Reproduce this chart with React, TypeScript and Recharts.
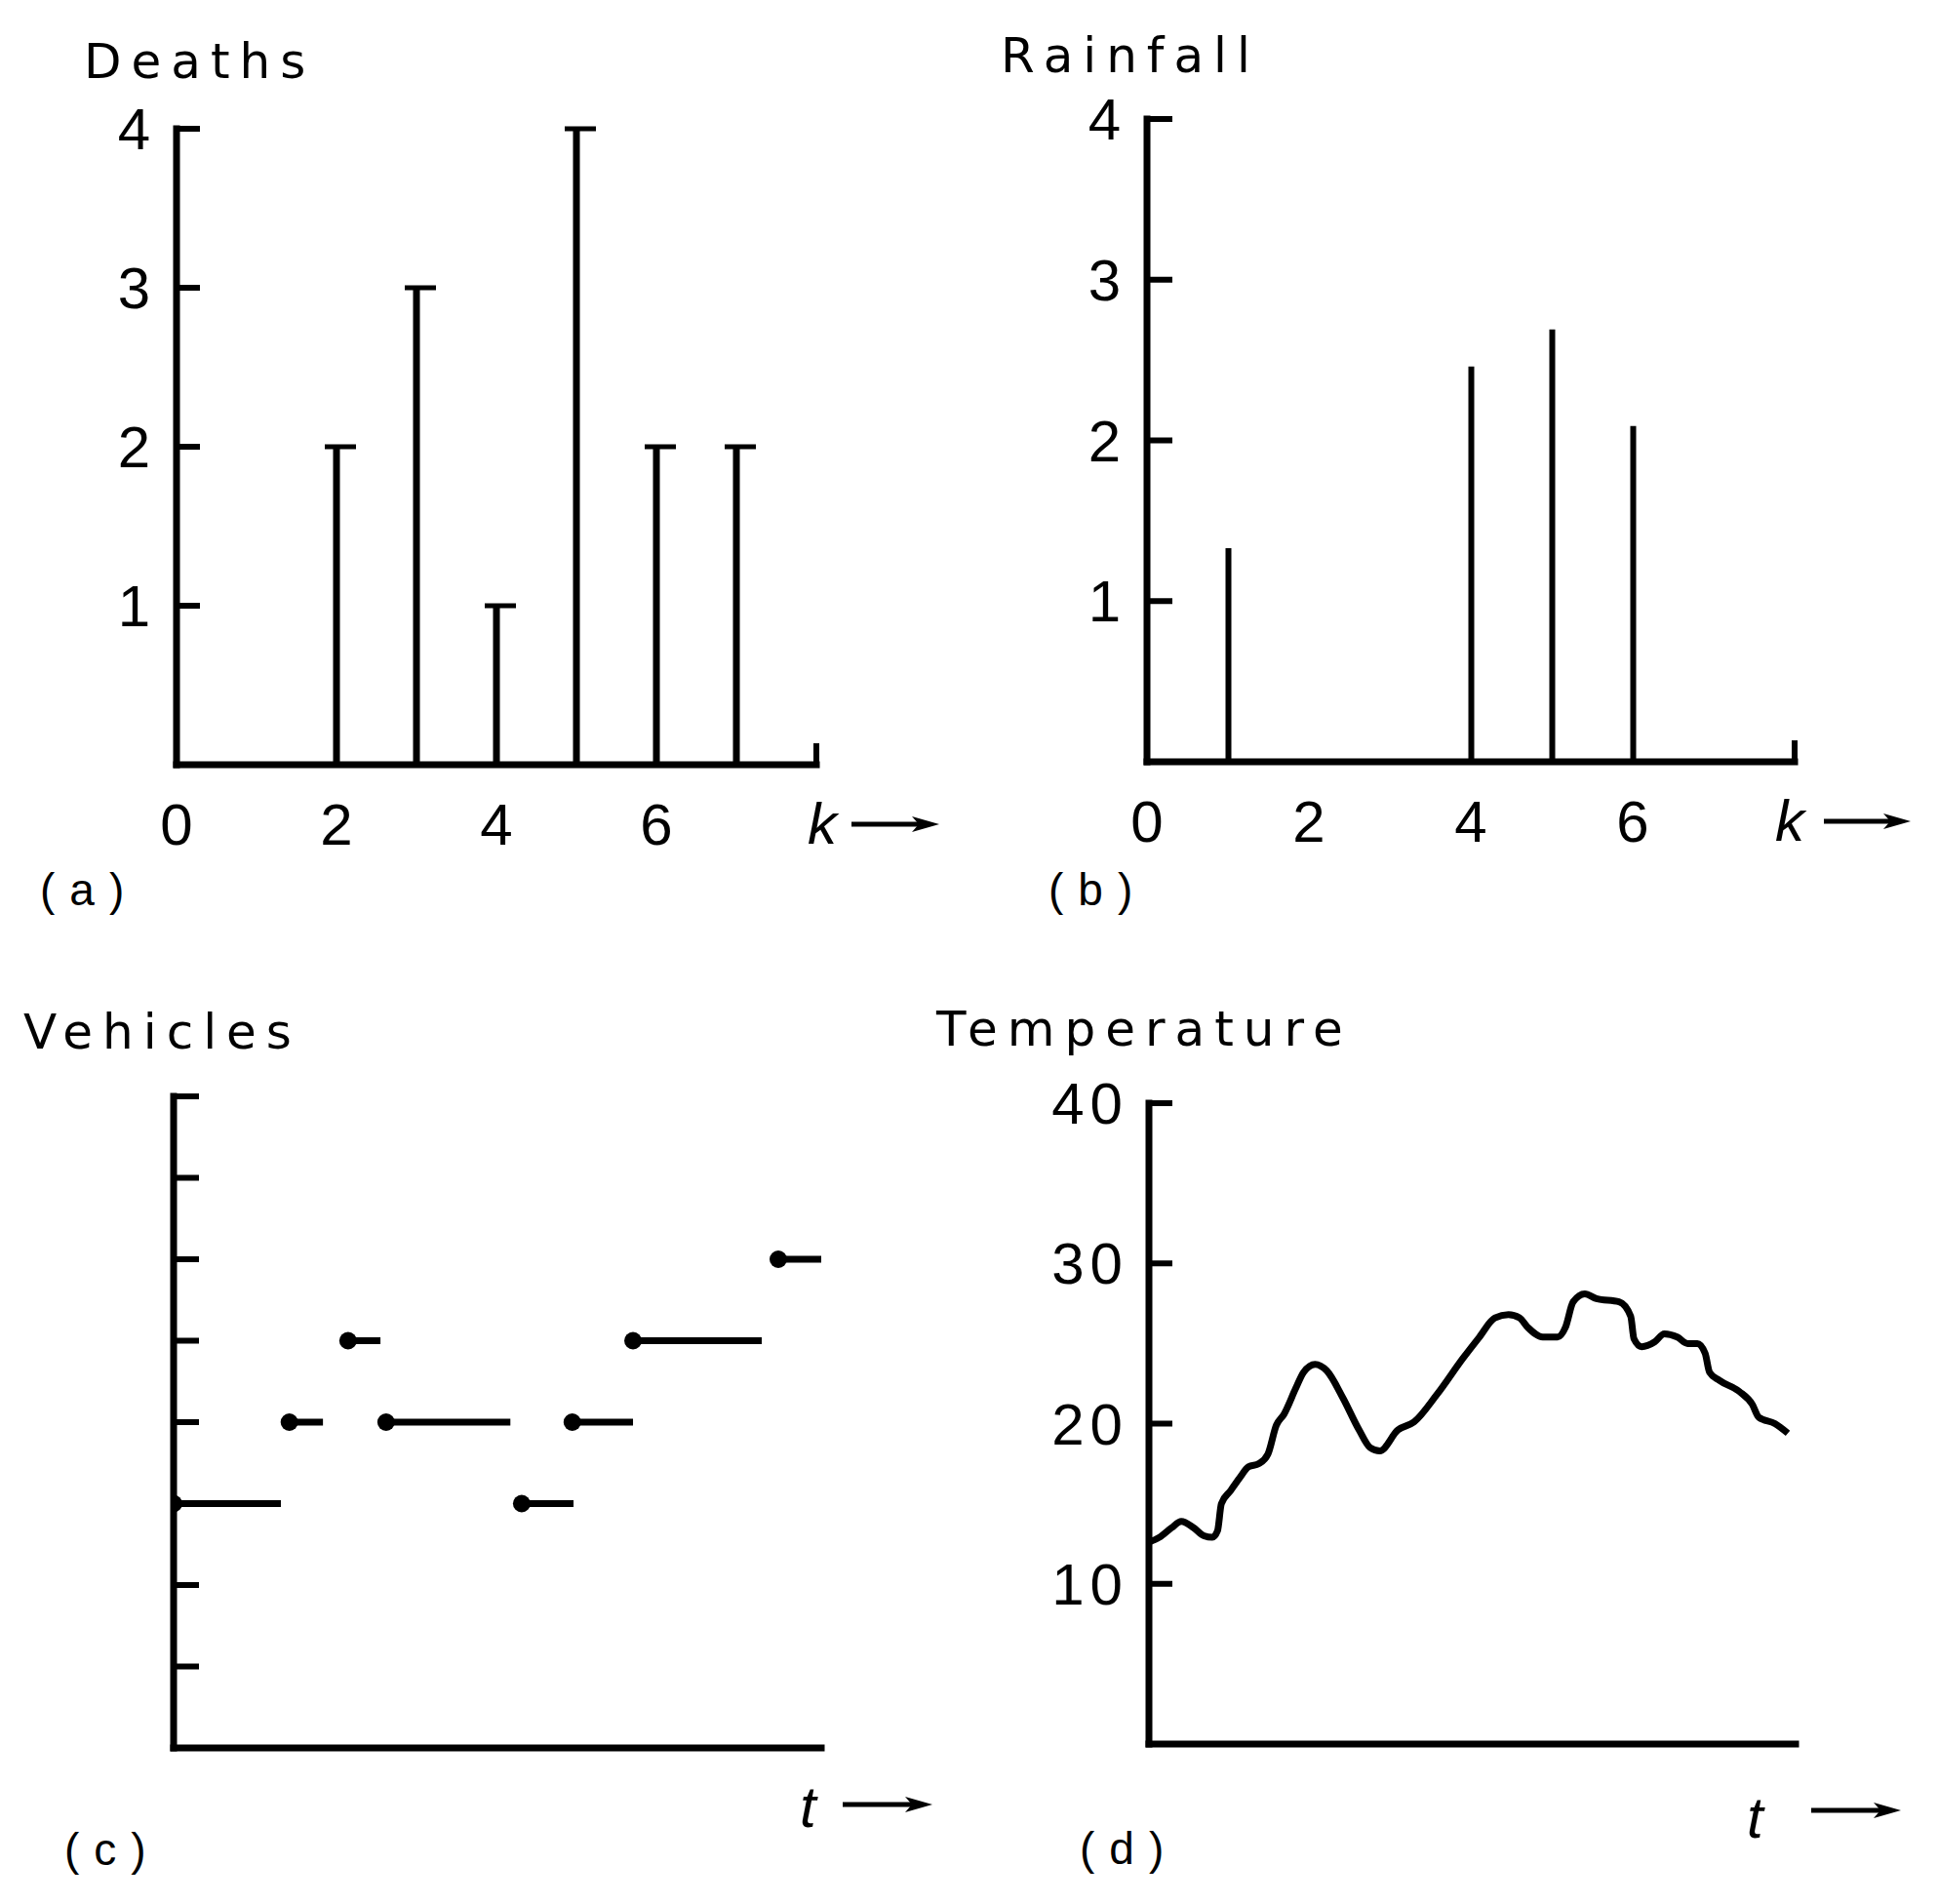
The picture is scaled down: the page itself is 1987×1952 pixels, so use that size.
import React from "react";
import { BarChart, Bar, LineChart, Line, XAxis, YAxis } from "recharts";

// (a) deaths and (b) rainfall per interval k
const kValues = [0, 1, 2, 3, 4, 5, 6, 7];
const deaths = [0, 0, 2, 3, 1, 4, 2, 2];
const rainfall = [0, 1.33, 0, 0, 2.46, 2.69, 2.09, 0];
const kTicks = [0, 2, 4, 6, 8];
const countTicks = [1, 2, 3, 4];

// (c) vehicles: piecewise-constant count, each step starts at a dot
const stepStart = [0, 2.86, 4.31, 5.25, 8.6, 9.85, 11.35, 14.94];
const stepEnd = [2.65, 3.69, 5.11, 8.32, 9.88, 11.35, 14.53, 16];
const vehicles = [3, 4, 5, 4, 3, 4, 5, 6];
const vehicleTicks = [1, 2, 3, 4, 5, 6, 7, 8];

// (d) temperature trace
const tempTime = [
  0, 1.6, 3.5, 5.0, 6.9, 8.5, 9.8, 10.6, 11.2, 12.6, 14.0, 15.4, 17.0, 18.4,
  19.7, 20.9, 22.7, 23.9, 25.7, 27.5, 30.0, 32.5, 34.2, 35.7, 38.5, 41.0, 44.5,
  48.6, 51.1, 53.5, 55.6, 57.3, 58.6, 60.9, 63.2, 64.4, 65.6, 67.4, 69.2, 72.7,
  74.5, 75.0, 76.2, 78.2, 79.7, 81.7, 83.3, 84.8, 86.0, 86.7, 88.2, 91.3, 93.3,
  94.3, 96.8, 98.8,
];
const temperature = [
  12.6, 12.9, 13.5, 13.9, 13.5, 13.0, 12.9, 13.3, 15.0, 15.8, 16.6, 17.3, 17.5,
  18.1, 19.9, 20.6, 22.2, 23.2, 23.7, 23.3, 21.6, 19.6, 18.5, 18.3, 19.6, 20.1,
  21.8, 24.1, 25.4, 26.6, 26.8, 26.6, 26.0, 25.4, 25.4, 26.0, 27.6, 28.1, 27.8,
  27.6, 26.7, 25.3, 24.8, 25.1, 25.6, 25.4, 25.0, 25.0, 24.4, 23.2, 22.7, 22.0,
  21.2, 20.4, 20.0, 19.4,
];
const tempTicks = [10, 20, 30, 40];

const FONT = "'Liberation Sans', Arial, Helvetica, sans-serif";
const TITLE_FONT = "'DejaVu Sans', sans-serif";
const INK = "#000";
const axisStyle = { stroke: INK, strokeWidth: 7, strokeLinecap: "square" as const };

const deathData = kValues.map((k, i) => ({ k, v: deaths[i] }));
const rainData = kValues.map((k, i) => ({ k, v: rainfall[i] }));
const vehicleSegments = stepStart.map((s, i) => [
  { t: s, n: vehicles[i] },
  { t: stepEnd[i], n: vehicles[i] },
]);
const tempData = tempTime.map((t, i) => ({ t, T: temperature[i] }));

const Arrow = ({ x1, x2, y }: { x1: number; x2: number; y: number }) => (
  <g>
    <line x1={x1} x2={x2 - 14} y1={y} y2={y} stroke={INK} strokeWidth={5} />
    <polygon
      points={`${x2},${y} ${x2 - 28},${y - 8} ${x2 - 21},${y} ${x2 - 28},${y + 8}`}
      fill={INK}
    />
  </g>
);

// y ticks point inwards, labels sit left of the axis
const yTick = (len: number, label: boolean, spacing = 0) => (props: any) => {
  const { x, y, payload } = props;
  return (
    <g>
      <line x1={x} x2={x + len} y1={y} y2={y} stroke={INK} strokeWidth={6} />
      {label && (
        <text
          x={x - 27 + spacing}
          y={y + 21}
          textAnchor="end"
          fontFamily={FONT}
          fontSize={60}
          letterSpacing={spacing}
          fill={INK}>
          {payload.value}
        </text>
      )}
    </g>
  );
};

const kTick = (kDx: number, a1: number, a2: number) => (props: any) => {
  const { x, y, payload } = props;
  if (payload.value === 8) {
    return (
      <g>
        <line x1={x} x2={x} y1={y} y2={y - 22} stroke={INK} strokeWidth={6} />
        <text x={x + kDx} y={y + 81} fontFamily={FONT} fontStyle="italic" fontSize={60} fill={INK}>
          k
        </text>
        <Arrow x1={x + a1} x2={x + a2} y={y + 61} />
      </g>
    );
  }
  return (
    <text x={x} y={y + 82} textAnchor="middle" fontFamily={FONT} fontSize={60} fill={INK}>
      {payload.value}
    </text>
  );
};

const tTick = (tDx: number, a1: number, a2: number, ty: number, ay: number) => (props: any) => {
  const { x, y } = props;
  return (
    <g>
      <text x={x + tDx} y={y + ty} fontFamily={FONT} fontStyle="italic" fontSize={60} fill={INK}>
        t
      </text>
      <Arrow x1={x + a1} x2={x + a2} y={y + ay} />
    </g>
  );
};

const CappedStem = (props: any) => {
  const { x, y, width, height } = props;
  if (!height || height <= 0) return <g />;
  const cx = x + width / 2;
  return (
    <g>
      <line x1={cx} x2={cx} y1={y} y2={y + height} stroke={INK} strokeWidth={7} />
      <line x1={cx - 12} x2={cx + 20} y1={y} y2={y} stroke={INK} strokeWidth={5} />
    </g>
  );
};

const Stem = (props: any) => {
  const { x, y, width, height } = props;
  if (!height || height <= 0) return <g />;
  const cx = x + width / 2;
  return <line x1={cx} x2={cx} y1={y} y2={y + height} stroke={INK} strokeWidth={6} />;
};

const StepDot = (props: any) => {
  const { cx, cy, index } = props;
  if (index !== 0) return <g key={`e${index}`} />;
  return <circle key={`d${index}`} cx={cx} cy={cy} r={9} fill={INK} />;
};

const box = (left: number, top: number): React.CSSProperties => ({
  position: "absolute",
  left,
  top,
});

export default function App() {
  return (
    <div style={{ position: "absolute", left: 0, top: 0, width: 1987, height: 1952, background: "#fff" }}>
      <div style={box(0, 0)}>
        <BarChart width={993} height={976} data={deathData} margin={{ top: 132, right: 156, bottom: 42, left: 61 }}>
          <XAxis
            dataKey="k"
            type="number"
            domain={[0, 8]}
            ticks={kTicks}
            interval={0}
            height={150}
            axisLine={axisStyle}
            tickLine={false}
            tickSize={0}
            tickMargin={0}
            tick={kTick(-9, 36, 126)}
          />
          <YAxis
            type="number"
            domain={[0, 4]}
            ticks={countTicks}
            interval={0}
            width={120}
            axisLine={axisStyle}
            tickLine={false}
            tickSize={0}
            tickMargin={0}
            tick={yTick(24, true)}
          />
          <Bar dataKey="v" barSize={30} shape={<CappedStem />} isAnimationActive={false} />
        </BarChart>
      </div>

      <div style={box(993, 0)}>
        <BarChart width={994} height={976} data={rainData} margin={{ top: 122, right: 147, bottom: 45, left: 63 }}>
          <XAxis
            dataKey="k"
            type="number"
            domain={[0, 8]}
            ticks={kTicks}
            interval={0}
            height={150}
            axisLine={axisStyle}
            tickLine={false}
            tickSize={0}
            tickMargin={0}
            tick={kTick(-20, 30, 119)}
          />
          <YAxis
            type="number"
            domain={[0, 4]}
            ticks={countTicks}
            interval={0}
            width={120}
            axisLine={axisStyle}
            tickLine={false}
            tickSize={0}
            tickMargin={0}
            tick={yTick(26, true)}
          />
          <Bar dataKey="v" barSize={30} shape={<Stem />} isAnimationActive={false} />
        </BarChart>
      </div>

      <div style={box(0, 976)}>
        <LineChart width={993} height={976} margin={{ top: 148, right: 151, bottom: 10, left: 58 }}>
          <XAxis
            dataKey="t"
            type="number"
            domain={[0, 16]}
            allowDataOverflow
            ticks={[16]}
            interval={0}
            height={150}
            axisLine={axisStyle}
            tickLine={false}
            tickSize={0}
            tickMargin={0}
            tick={tTick(-22, 22, 114, 81, 58)}
          />
          <YAxis
            type="number"
            domain={[0, 8]}
            ticks={vehicleTicks}
            interval={0}
            width={120}
            axisLine={axisStyle}
            tickLine={false}
            tickSize={0}
            tickMargin={0}
            tick={yTick(26, false)}
          />
          {vehicleSegments.map((seg, i) => (
            <Line
              key={i}
              data={seg}
              dataKey="n"
              type="linear"
              stroke={INK}
              strokeWidth={7}
              dot={StepDot}
              activeDot={false}
              isAnimationActive={false}
            />
          ))}
        </LineChart>
      </div>

      <div style={box(993, 976)}>
        <LineChart width={994} height={976} data={tempData} margin={{ top: 155, right: 146, bottom: 14, left: 65 }}>
          <XAxis
            dataKey="t"
            type="number"
            domain={[0, 100]}
            ticks={[100]}
            interval={0}
            height={150}
            axisLine={axisStyle}
            tickLine={false}
            tickSize={0}
            tickMargin={0}
            tick={tTick(-50, 16, 108, 96, 68)}
          />
          <YAxis
            type="number"
            domain={[0, 40]}
            ticks={tempTicks}
            interval={0}
            width={120}
            axisLine={axisStyle}
            tickLine={false}
            tickSize={0}
            tickMargin={0}
            tick={yTick(24, true, 6)}
          />
          <Line
            dataKey="T"
            type="monotone"
            stroke={INK}
            strokeWidth={7}
            strokeLinejoin="round"
            dot={false}
            activeDot={false}
            isAnimationActive={false}
          />
        </LineChart>
      </div>

      <svg
        width={1987}
        height={1952}
        style={{ position: "absolute", left: 0, top: 0, pointerEvents: "none" }}
        fill={INK}>
        <g fontFamily={TITLE_FONT} fontSize={50} letterSpacing={10}>
          <text x={86} y={80}>Deaths</text>
          <text x={1026} y={74}>Rainfall</text>
          <text x={24} y={1075}>Vehicles</text>
          <text x={960} y={1072}>Temperature</text>
        </g>
        <g fontFamily={FONT} fontSize={46} letterSpacing={15}>
          <text x={41} y={928}>(a)</text>
          <text x={1075} y={928}>(b)</text>
          <text x={66} y={1912}>(c)</text>
          <text x={1107} y={1911}>(d)</text>
        </g>
      </svg>
    </div>
  );
}
